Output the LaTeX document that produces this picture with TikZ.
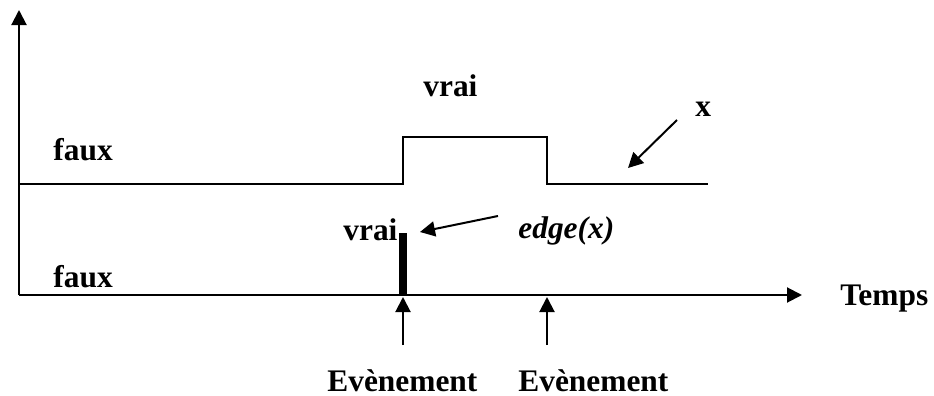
\documentclass[tikz,border=0pt]{standalone}
\usepackage{fontspec}
\setmainfont{Liberation Serif}
\usetikzlibrary{arrows.meta}
\tikzset{
  % line styles of the chronogram
  axis line/.style={line width=1pt,-{Triangle[length=7.5pt,width=7.5pt]}},
  signal line/.style={line width=1pt},
  pulse line/.style={line width=4pt},
  pointer/.style={line width=1pt,-{Triangle[length=7.5pt,width=7.5pt]}},
  % bold labels
  state label/.style={font=\fontsize{15.7}{18}\selectfont\bfseries,inner sep=0pt,anchor=base west}
}

\begin{document}
\begin{tikzpicture}[x=0.5pt,y=-0.5pt]
  \useasboundingbox (0,0) rectangle (934,396);
  % axes
  \coordinate (O) at (19,295);
  \coordinate (ytop) at (19,10);
  \coordinate (xend) at (802,295);
  \draw[axis line] (O) -- (ytop);
  \draw[axis line] (O) -- (xend);
  % the signal x
  \coordinate (s0) at (19,184);
  \coordinate (s1) at (403,184);
  \coordinate (s2) at (403,137);
  \coordinate (s3) at (547,137);
  \coordinate (s4) at (547,184);
  \coordinate (s5) at (708,184);
  \draw[signal line] (s0) -- (s1) -- (s2) -- (s3) -- (s4) -- (s5);
  % the pulse edge(x)
  \coordinate (p0) at (403,295);
  \coordinate (p1) at (403,233);
  \draw[pulse line] (p0) -- (p1);
  % labels
  \node[state label] (fauxA) at (53,160) {faux};
  \node[state label] (fauxB) at (53,287) {faux};
  \node[state label] (vraiA) at (423,97) {vrai};
  \node[state label] (vraiB) at (343,240) {vrai};
  \node[state label] (xlab) at (695,117) {x};
  \node[state label,font=\fontsize{15.7}{18}\selectfont\bfseries\itshape] (edgelab) at (518,238) {edge(x)};
  \node[state label] (temps) at (840,305) {Temps};
  \node[state label] (evA) at (327,391) {Evènement};
  \node[state label] (evB) at (518,391) {Evènement};
  % pointers
  \coordinate (xa) at (677,120);
  \coordinate (xb) at (628,168);
  \draw[pointer] (xa) -- (xb);
  \coordinate (ea) at (498,216);
  \coordinate (eb) at (420,232);
  \draw[pointer] (ea) -- (eb);
  % events
  \coordinate (e1) at (403,345);
  \coordinate (e1t) at (403,297);
  \coordinate (e2) at (547,345);
  \coordinate (e2t) at (547,297);
  \draw[pointer] (e1) -- (e1t);
  \draw[pointer] (e2) -- (e2t);
\end{tikzpicture}
\end{document}
